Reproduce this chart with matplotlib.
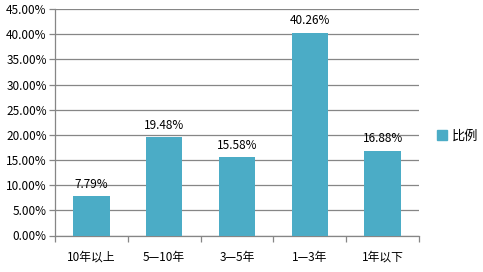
import matplotlib
matplotlib.use("Agg")
import matplotlib.pyplot as plt
from matplotlib.patches import Patch
import numpy as np

plt.rcParams['font.family'] = ['Noto Sans CJK SC', 'DejaVu Sans']

categories = ["10年以上", "5—10年", "3—5年", "1—3年", "1年以下"]
values = [7.79, 19.48, 15.58, 40.26, 16.88]
series_name = "比例"
yticks = [0, 5, 10, 15, 20, 25, 30, 35, 40, 45]

bar_color = "#4BACC6"
grid_color = "#868686"

fig = plt.figure(figsize=(4.83, 2.72), dpi=100)
ax = fig.add_axes([55/483, 1-235.5/272, (419-55)/483, (235.5-9)/272])

x = np.arange(len(categories))
bars = ax.bar(x, values, width=0.5, color=bar_color, zorder=3)
for xi, v in zip(x, values):
    ax.annotate(f"{v:.2f}%", (xi, v), xytext=(0, 4), textcoords="offset points",
                ha="center", va="bottom", fontsize=8.5, color="#000000")

ax.set_xlim(-0.5, len(categories) - 0.5)
ax.set_ylim(0, 45)
ax.set_yticks(yticks)
ax.set_yticklabels([f"{t:.2f}%" for t in yticks], fontsize=8.5)
ax.yaxis.grid(True, color=grid_color, linewidth=0.9, zorder=0)
ax.set_xticks(x)
ax.set_xticklabels(categories, fontsize=8.5)
ax.tick_params(axis='x', which='major', length=0, pad=11)
ax.set_xticks(np.arange(-0.5, len(categories), 1), minor=True)
ax.tick_params(axis='x', which='minor', length=4, color=grid_color, width=0.9)
ax.tick_params(axis='y', length=4, color=grid_color, width=0.9, pad=2)
for s in ['top', 'right']:
    ax.spines[s].set_visible(False)
for s in ['left', 'bottom']:
    ax.spines[s].set_color(grid_color)
    ax.spines[s].set_linewidth(0.9)

leg = fig.legend(handles=[Patch(color=bar_color, label=series_name)],
                 loc="center left", bbox_to_anchor=(432/483, 1-136/272),
                 frameon=False, fontsize=9.5, handlelength=0.7, handleheight=0.7,
                 handletextpad=0.4, borderaxespad=0)

fig.savefig("out.png", dpi=100)
